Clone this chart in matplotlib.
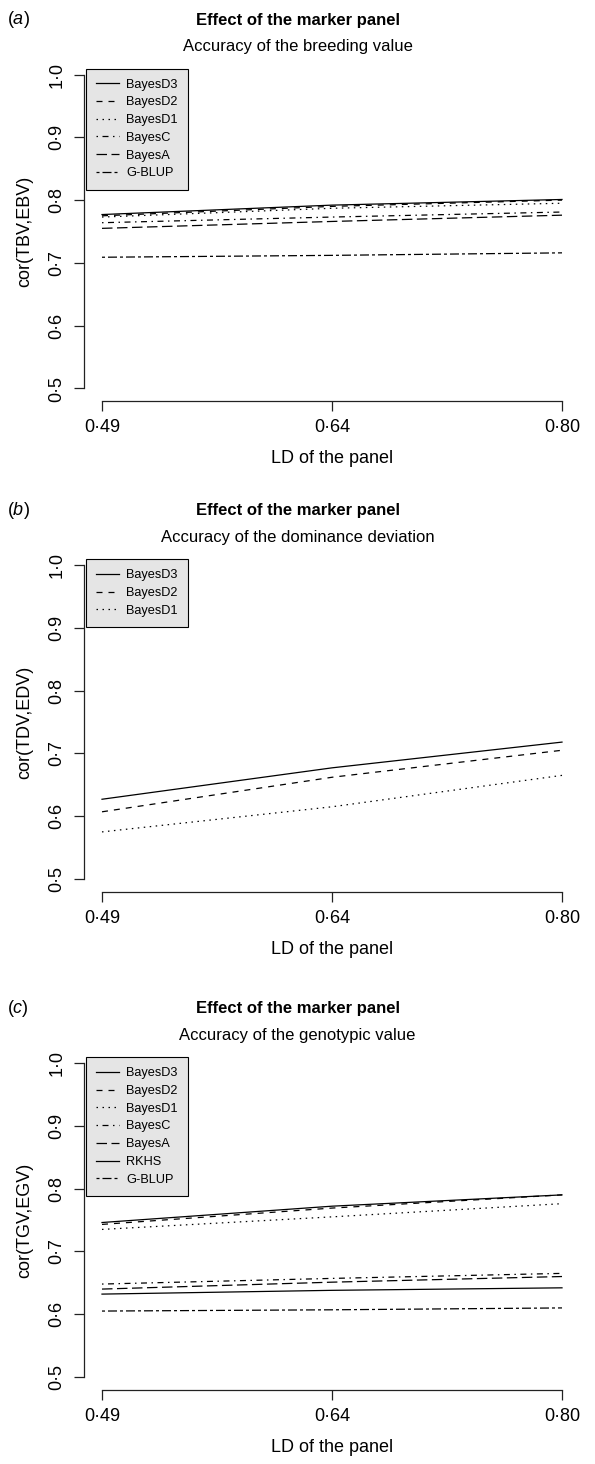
import matplotlib
matplotlib.use("Agg")
import matplotlib.pyplot as plt

plt.rcParams["font.family"] = ["Liberation Sans", "DejaVu Sans"]
plt.rcParams["mathtext.fontset"] = "custom"
plt.rcParams["mathtext.rm"] = "Liberation Sans"
plt.rcParams["mathtext.it"] = "Liberation Sans:italic"
plt.rcParams["lines.scale_dashes"] = False

# data
ld_labels = ["0·49", "0·64", "0·80"]
y_ticks = [0.5, 0.6, 0.7, 0.8, 0.9, 1.0]
y_tick_labels = ["0·5", "0·6", "0·7", "0·8", "0·9", "1·0"]

bv_methods = ["BayesD3", "BayesD2", "BayesD1", "BayesC", "BayesA", "G-BLUP"]
bv_values = [
    [0.777, 0.792, 0.801],
    [0.775, 0.790, 0.800],
    [0.773, 0.787, 0.795],
    [0.764, 0.773, 0.781],
    [0.755, 0.766, 0.776],
    [0.709, 0.712, 0.716],
]

dv_methods = ["BayesD3", "BayesD2", "BayesD1"]
dv_values = [
    [0.627, 0.677, 0.718],
    [0.607, 0.662, 0.705],
    [0.575, 0.615, 0.665],
]

gv_methods = ["BayesD3", "BayesD2", "BayesD1", "BayesC", "BayesA", "RKHS", "G-BLUP"]
gv_values = [
    [0.746, 0.772, 0.790],
    [0.743, 0.769, 0.790],
    [0.735, 0.755, 0.776],
    [0.648, 0.657, 0.665],
    [0.640, 0.651, 0.660],
    [0.632, 0.638, 0.642],
    [0.605, 0.607, 0.610],
]

# R line types (lty) as dash patterns in points
u = 1.08
lty = {
    "BayesD3": "-",
    "BayesD2": (0, (4 * u, 4 * u)),
    "BayesD1": (0, (1 * u, 3 * u)),
    "BayesC": (0, (1 * u, 3 * u, 4 * u, 3 * u)),
    "BayesA": (0, (7 * u, 3 * u)),
    "RKHS": "-",
    "G-BLUP": (0, (2 * u, 2 * u, 6 * u, 2 * u)),
}

panels = [
    ("a", "Accuracy of the breeding value", "cor(TBV,EBV)", bv_methods, bv_values, 74.5),
    ("b", "Accuracy of the dominance deviation", "cor(TDV,EDV)", dv_methods, dv_values, 565.0),
    ("c", "Accuracy of the genotypic value", "cor(TGV,EGV)", gv_methods, gv_values, 1063.0),
]

W, H = 595, 1464
fig = plt.figure(figsize=(W / 100, H / 100), dpi=100)

x = [1, 2, 3]
px_unit = 628.0
left, right = 83.6, 580.4
axcol = "#222222"

for letter, subtitle, ylabel, methods, values, tick_top in panels:
    top = tick_top - 0.02 * px_unit
    bottom = tick_top + 0.52 * px_unit
    ax = fig.add_axes([left / W, 1 - bottom / H, (right - left) / W, (bottom - top) / H])

    for name, vals in zip(methods, values):
        ax.plot(x, vals, color="black", lw=0.9, linestyle=lty[name],
                dash_capstyle="butt", label=name)

    ax.set_xlim(0.92, 3.08)
    ax.set_ylim(0.48, 1.02)
    ax.set_xticks(x)
    ax.set_xticklabels(ld_labels)
    ax.set_yticks(y_ticks)
    ax.set_yticklabels(y_tick_labels, va="center")
    for s in ["top", "right"]:
        ax.spines[s].set_visible(False)
    ax.spines["left"].set_bounds(0.5, 1.0)
    ax.spines["bottom"].set_bounds(1, 3)
    for s in ["left", "bottom"]:
        ax.spines[s].set_color(axcol)
        ax.spines[s].set_linewidth(0.9)
    ax.tick_params(axis="both", direction="out", length=7, width=0.9,
                   color=axcol, labelsize=13, pad=6)
    ax.tick_params(axis="y", labelrotation=90)

    ax.set_ylabel(ylabel, fontsize=13, va="center")
    ax.yaxis.set_label_coords((25 - left) / (right - left), 0.5)
    ax.set_xlabel("LD of the panel", fontsize=13, va="center")
    ax.xaxis.set_label_coords(0.5, -57.5 / (bottom - top))

    leg = ax.legend(loc="upper left",
                    bbox_to_anchor=((86 - left) / (right - left),
                                    (bottom - (tick_top - 6)) / (bottom - top)),
                    fontsize=9.2, frameon=True, fancybox=False, framealpha=1,
                    facecolor="#e5e5e5", edgecolor="black", borderaxespad=0,
                    handlelength=1.8, handletextpad=0.55, labelspacing=0.45,
                    borderpad=0.8)
    leg.get_frame().set_linewidth(0.8)

    fig.text(0.5, 1 - (tick_top - 54.5) / H, "Effect of the marker panel",
             ha="center", va="center", fontsize=12, fontweight="bold")
    fig.text(0.5, 1 - (tick_top - 27.5) / H, subtitle,
             ha="center", va="center", fontsize=12)
    fig.text(7 / W, 1 - (tick_top - 54.5) / H, "($\\mathit{%s}$)" % letter,
             ha="left", va="center", fontsize=13)

fig.savefig("out.png", dpi=100)
